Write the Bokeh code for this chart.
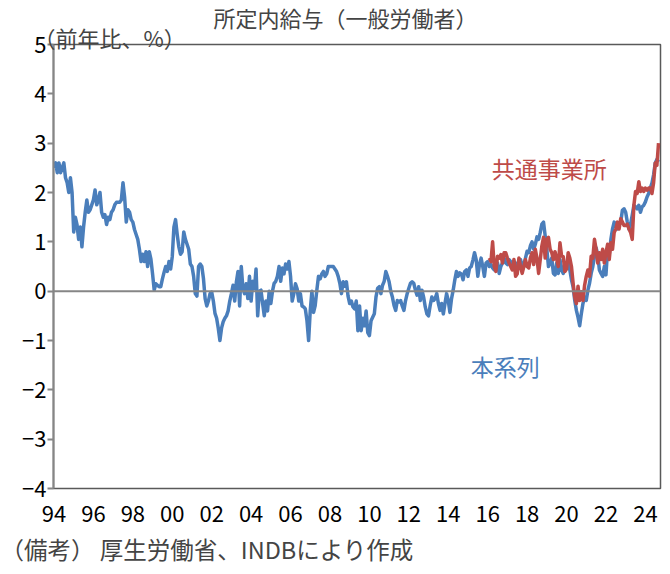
from bokeh.plotting import figure
from bokeh.models import Range1d, FixedTicker, Span, Label, Title
from bokeh.embed import file_html
from bokeh.resources import INLINE

# Year-on-year change of scheduled earnings (general workers), monthly, %
honkeiretsu = {
    1994: [2.5, 2.6, 2.4, 2.6, 2.4, 2.5, 2.6, 2.3, 2.2, 2.0, 2.3, 2.0],
    1995: [1.2, 1.5, 1.35, 1.05, 1.3, 0.9, 1.3, 1.6, 1.85, 1.6, 1.65, 1.75],
    1996: [1.85, 2.05, 1.75, 1.85, 2.0, 1.6, 1.5, 1.55, 1.35, 1.5, 1.45, 1.6],
    1997: [1.65, 1.75, 1.8, 1.8, 1.8, 1.85, 2.2, 1.9, 1.4, 1.65, 1.6, 1.45],
    1998: [1.4, 1.25, 1.15, 1.05, 0.85, 0.6, 0.75, 0.6, 0.8, 0.5, 0.8, 0.65],
    1999: [0.35, 0.02, 0.15, 0.12, 0.09, 0.09, 0.25, 0.38, 0.5, 0.4, 0.6, 0.45],
    2000: [0.7, 1.3, 1.45, 1.15, 0.9, 0.75, 0.8, 1.2, 1.05, 0.95, 0.85, 0.55],
    2001: [0.5, 0.3, -0.05, -0.1, 0.5, 0.55, 0.5, 0.25, -0.15, -0.3, -0.2, -0.05],
    2002: [-0.02, -0.2, -0.45, -0.55, -0.75, -1.0, -0.75, -0.62, -0.55, -0.5, -0.4, -0.2],
    2003: [-0.05, 0.12, -0.2, 0.18, 0.4, -0.3, 0.5, 0.05, -0.05, 0.15, -0.15, 0.3],
    2004: [-0.2, 0.2, 0.05, 0.45, -0.5, 0.0, 0.02, -0.25, -0.5, -0.2, -0.4, 0.0],
    2005: [-0.25, 0.0, 0.16, 0.2, 0.3, 0.5, 0.2, 0.47, 0.35, 0.55, 0.45, 0.6],
    2006: [0.3, -0.2, -0.05, 0.15, 0.05, -0.2, -0.05, -0.3, -0.32, -0.36, -0.6, -1.0],
    2007: [-0.39, 0.0, -0.43, -0.29, 0.02, 0.3, 0.25, 0.35, 0.4, 0.3, 0.35, 0.5],
    2008: [0.5, 0.5, 0.5, 0.45, 0.4, 0.3, 0.16, -0.05, 0.19, 0.1, 0.19, -0.1],
    2009: [-0.25, -0.2, -0.32, -0.36, -0.2, -0.8, -0.3, -0.8, -0.55, -0.7, -0.4, -0.84],
    2010: [-0.9, -0.6, -0.53, -0.46, -0.12, 0.06, 0.09, -0.05, 0.12, 0.2, 0.4, 0.3],
    2011: [0.19, 0.0, -0.12, -0.29, -0.39, -0.19, -0.22, -0.19, -0.3, -0.39, -0.19, -0.05],
    2012: [0.06, 0.16, 0.19, 0.16, 0.02, -0.08, 0.09, -0.19, 0.02, -0.12, -0.32, -0.46],
    2013: [-0.5, -0.29, -0.12, -0.19, -0.15, -0.05, -0.25, -0.39, -0.25, -0.46, -0.25, -0.05],
    2014: [-0.19, -0.43, -0.15, 0.02, 0.23, 0.4, 0.3, 0.37, 0.35, 0.23, 0.4, 0.43],
    2015: [0.3, 0.47, 0.5, 0.63, 0.78, 0.64, 0.3, 0.54, 0.67, 0.5, 0.3, 0.57],
    2016: [0.6, 0.5, 0.54, 0.47, 0.43, 0.6, 0.57, 0.36, 0.5, 0.57, 0.67, 0.57],
    2017: [0.54, 0.64, 0.6, 0.5, 0.6, 0.57, 0.5, 0.57, 0.64, 0.5, 0.54, 0.67],
    2018: [0.81, 0.78, 0.92, 1.0, 0.85, 0.95, 1.1, 1.05, 1.19, 1.36, 1.4, 1.12],
    2019: [0.85, 0.5, 0.57, 0.67, 0.36, 0.33, 0.57, 0.36, 0.64, 0.43, 0.36, 0.57],
    2020: [0.5, 0.64, 0.43, 0.23, 0.09, -0.19, -0.39, -0.53, -0.7, -0.46, -0.25, -0.12],
    2021: [-0.19, 0.02, 0.16, 0.36, 0.5, 0.71, 0.88, 0.74, 0.43, 0.36, 0.3, 0.5],
    2022: [0.33, 0.85, 0.74, 1.05, 1.26, 1.4, 1.33, 1.26, 1.36, 1.4, 1.64, 1.67],
    2023: [1.6, 1.4, 1.26, 1.36, 1.54, 1.74, 1.71, 1.67, 1.74, 1.6, 1.71, 1.74],
    2024: [1.81, 1.91, 1.98, 2.09, 2.19, 2.36, 2.6, 2.67, 2.62],
}

# Common-establishment series, starting February 2016
kyotsu_start = (2016, 2)
kyotsu = {
    2016: [0.67, 0.6, 1.0, 0.5, 0.4, 0.71, 0.67, 0.74, 0.57, 0.78, 0.78],
    2017: [0.67, 0.57, 0.5, 0.43, 0.64, 0.3, 0.35, 0.67, 0.5, 0.36, 0.5, 0.64],
    2018: [0.5, 0.47, 0.67, 0.78, 0.54, 0.85, 0.67, 0.36, 0.64, 0.92, 1.09, 0.67],
    2019: [1.05, 1.09, 0.85, 0.78, 0.64, 0.8, 0.65, 0.5, 0.98, 0.71, 0.7, 0.4],
    2020: [0.45, 0.78, 0.67, 0.5, 0.16, -0.12, -0.25, 0.1, -0.19, -0.01, -0.19, 0.12],
    2021: [0.3, 0.43, 0.3, 0.71, 0.67, 1.05, 0.85, 0.57, 0.78, 0.64, 0.85, 0.57],
    2022: [0.78, 0.95, 0.64, 0.98, 0.85, 1.19, 1.26, 1.4, 1.26, 1.47, 1.4, 1.33],
    2023: [1.33, 1.36, 1.26, 1.19, 1.05, 1.74, 2.02, 1.98, 2.22, 2.02, 2.09, 2.02],
    2024: [2.09, 2.05, 2.09, 2.09, 1.98, 2.2, 2.6, 2.55, 3.0],
}

tick_years = list(range(1994, 2025, 2))
tick_labels = [f"{y % 100:02d}" for y in tick_years]

FONT = "Noto Sans CJK JP"
BLUE = "#4A7EBB"
RED = "#BE4B48"
BASE_YEAR = 1994


def flatten(series, start_year, start_month=1):
    xs, ys = [], []
    for year in sorted(series):
        first = start_month if year == start_year else 1
        for k, v in enumerate(series[year]):
            xs.append((year - BASE_YEAR) * 12 + (first - 1) + k)
            ys.append(v)
    return xs, ys


bx, by = flatten(honkeiretsu, 1994)
rx, ry = flatten(kyotsu, *kyotsu_start)

p = figure(width=670, height=574, x_range=Range1d(-0.3, 369.2), y_range=Range1d(-4, 5),
           output_backend="svg", toolbar_location=None,
           min_border_left=53, min_border_right=10, min_border_top=44, min_border_bottom=86)
p.background_fill_color = "white"
p.border_fill_color = "white"
p.outline_line_color = "#595959"
p.outline_line_width = 1.5
p.xgrid.visible = False
p.ygrid.visible = False

p.add_layout(Span(location=0, dimension="width", line_color="#868686", line_width=2))

p.line(bx, by, line_color=BLUE, line_width=3.5, line_join="round")
p.line(rx, ry, line_color=RED, line_width=3.5, line_join="round")

p.yaxis.ticker = FixedTicker(ticks=list(range(-4, 6)))
p.yaxis.axis_line_color = "#868686"
p.yaxis.axis_line_width = 2
p.yaxis.major_tick_line_color = "#868686"
p.yaxis.major_tick_line_width = 2
p.yaxis.major_tick_out = 6
p.yaxis.major_tick_in = 0
p.yaxis.minor_tick_line_color = None
p.yaxis.major_label_text_font = FONT
p.yaxis.major_label_text_font_size = "22px"
p.yaxis.major_label_text_color = "black"
p.yaxis.major_label_standoff = 1

p.xaxis.ticker = FixedTicker(ticks=[(y - BASE_YEAR) * 12 for y in tick_years])
p.xaxis.major_label_overrides = {(y - BASE_YEAR) * 12: lab for y, lab in zip(tick_years, tick_labels)}
p.xaxis.axis_line_color = None
p.xaxis.major_tick_line_color = None
p.xaxis.minor_tick_line_color = None
p.xaxis.major_label_text_font = FONT
p.xaxis.major_label_text_font_size = "22px"
p.xaxis.major_label_text_color = "black"
p.xaxis.major_label_standoff = 11

# series names inside the plot
p.add_layout(Label(x=301.5, y=2.5, text="共通事業所", text_font=FONT, text_font_size="23px",
                   text_color=RED, text_align="center", text_baseline="middle"))
p.add_layout(Label(x=274.7, y=-1.52, text="本系列", text_font=FONT, text_font_size="23px",
                   text_color=BLUE, text_align="center", text_baseline="middle"))

# unit note (nearest the frame) and chart title above it
p.add_layout(Title(text="（前年比、%）", align="left", offset=-20, standoff=-20, vertical_align="top",
                   text_font=FONT, text_font_size="22px", text_font_style="normal"), "above")
p.add_layout(Title(text="所定内給与（一般労働者）", align="left", offset=160, standoff=-4,
                   text_font=FONT, text_font_size="22px", text_font_style="normal"), "above")

# source note below the year labels
p.add_layout(Title(text="（備考） 厚生労働省、INDBにより作成", align="left", offset=-53, standoff=10,
                   text_font=FONT, text_font_size="23.5px", text_font_style="normal"), "below")

open("out.html", "w").write(file_html(p, INLINE))
